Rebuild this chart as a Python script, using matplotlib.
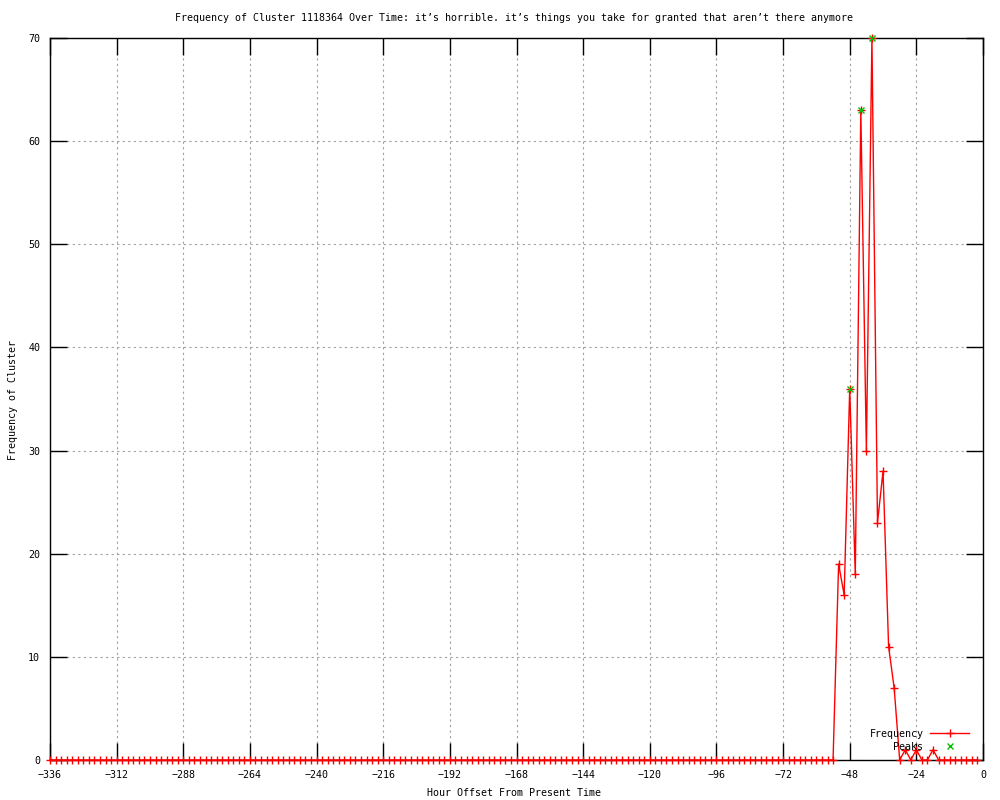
import numpy as np
import matplotlib.pyplot as plt

plt.rcParams['font.family'] = ['DejaVu Sans Mono']

# hours, every 2 h from -336 to -2
hours = np.arange(-336, 0, 2)
counts = np.zeros(len(hours))
nonzero = {-52: 19, -50: 16, -48: 36, -46: 18, -44: 63, -42: 30, -40: 70,
           -38: 23, -36: 28, -34: 11, -32: 7, -28: 1, -24: 1, -18: 1}
for h, v in nonzero.items():
    counts[hours == h] = v

peak_hours = [-48, -44, -40]
peak_values = [36, 63, 70]

title = "Frequency of Cluster 1118364 Over Time: it\u2019s horrible. it\u2019s things you take for granted that aren\u2019t there anymore"
fs = 7.2

fig = plt.figure(figsize=(10, 8), dpi=100)
ax = fig.add_axes([0.05, 0.05, 0.933, 0.9025])

ax.plot(hours, counts, color='red', linewidth=1, marker='+', markersize=5.5,
        markeredgewidth=1, label='Frequency', clip_on=False, zorder=3)
ax.plot(peak_hours, peak_values, color='#00c000', linestyle='none', marker='x',
        markersize=5, markeredgewidth=1, label='Peaks', clip_on=False, zorder=4)

ax.set_xlim(-336, 0)
ax.set_ylim(0, 70)
ax.set_xticks(np.arange(-336, 1, 24))
ax.set_yticks(np.arange(0, 71, 10))
ax.tick_params(direction='in', length=12, width=1, top=True, right=True,
               labelsize=fs, pad=7)
ax.grid(True, color='#a0a0a0', linestyle=(0, (2, 3)), linewidth=0.8)
for s in ax.spines.values():
    s.set_linewidth(1)

fig.text(0.514, 1 - 18 / 800, title, fontsize=fs, ha='center', va='center')
fig.text(0.514, 1 - 793 / 800, 'Hour Offset From Present Time', fontsize=fs,
         ha='center', va='center')
fig.text(13 / 1000, 0.5, 'Frequency of Cluster', fontsize=fs, rotation=90,
         ha='center', va='center')

ax.legend(loc='lower right', frameon=False, markerfirst=False, fontsize=fs,
          handlelength=3.9, labelspacing=0.3, borderaxespad=0.3,
          handletextpad=0.7, bbox_to_anchor=(0.993, 0.002))

fig.savefig('out.png', dpi=100)
